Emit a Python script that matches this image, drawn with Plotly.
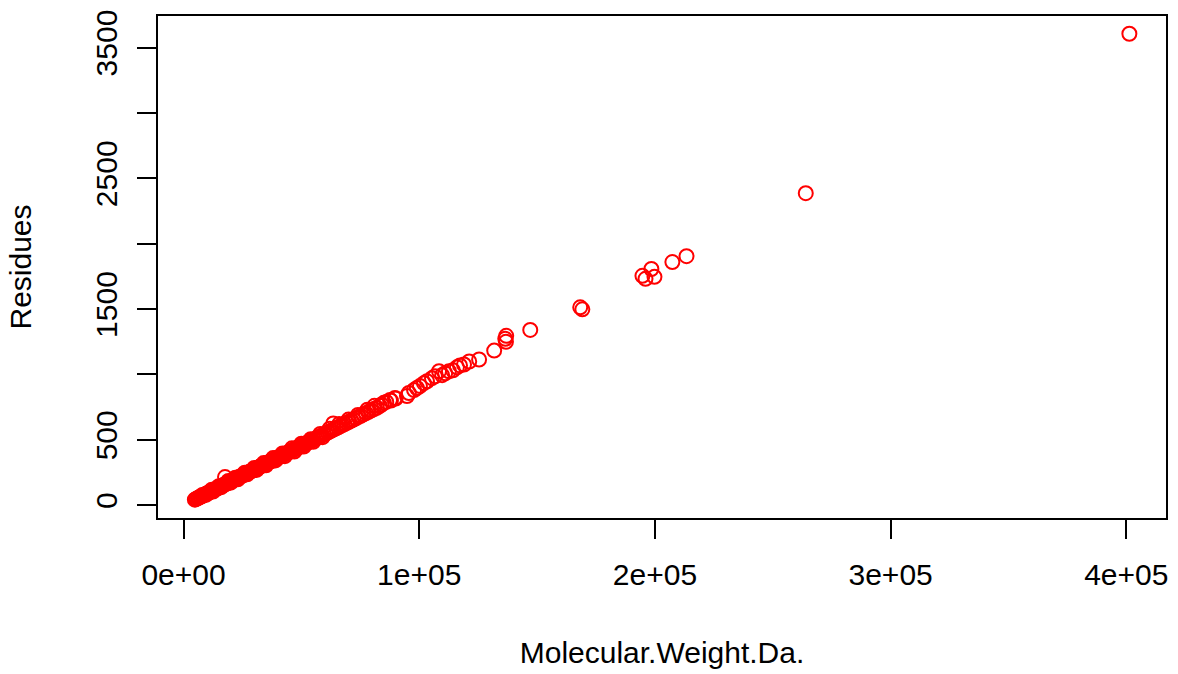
import plotly.graph_objects as go

# Molecular weight (Da) and residue counts
mw = [
    4800, 5200, 5600, 6100, 6500, 7000, 7400, 7900, 8300, 8800, 9200, 9700,
    10100, 10500, 10900, 11300, 11800, 12200, 12600, 13000, 13500, 13900, 14300,
    14800, 15200, 15700, 16100, 16600, 17000, 17500, 18000, 18400, 18900, 19300,
    19800, 20200, 20700, 21100, 21600, 22000, 22500, 23000, 23400, 23900, 24300,
    24800, 25200, 25700, 26100, 26600, 27000, 27500, 27900, 28400, 28800, 29300,
    29700, 30200, 30600, 31100, 31500, 32000, 32400, 32900, 33300, 33800, 34200,
    34700, 35100, 35600, 36000, 36500, 37000, 37400, 37900, 38300, 38800, 39200,
    39700, 40100, 40600, 41000, 41500, 42000, 42500, 43000, 43500, 44000, 44600,
    45100, 45700, 46200, 46800, 47300, 47900, 48500, 49000, 49600, 50200, 50800,
    51400, 52000, 52700, 53300, 54000, 54600, 55300, 56000, 56700, 57400, 58100,
    58900, 59600, 60400, 61200, 62000, 62800, 63800, 64700, 65600, 66500, 67400,
    68300, 69300, 70200, 71200, 72100, 73100, 74200, 75200, 76300, 77400, 78500,
    79700, 80800, 82000, 83300, 85000, 87600, 89700, 94800, 95600, 97800, 99000,
    100300, 102000, 103300, 105400, 106700, 108400, 109700, 111000, 112600,
    114300, 116000, 117300, 119000, 121200, 125400, 131800, 136900, 136500,
    136800, 147100, 168300, 169200, 194700, 196000, 198500, 199800, 207400,
    213400, 264000, 401300,
    8000, 9500, 12000, 12500, 15000, 16000, 17600, 19000, 20000, 22000, 23000,
    26000, 27000, 30000, 31000, 34000, 35000, 38000, 39000, 42000, 43000, 46000,
    47000, 50000, 51000, 54000, 55000, 58000, 59000, 62000, 63500, 66000, 70000,
    74000, 78000, 81000, 84000, 86000, 88000, 90000,
]
residues = [
    42, 46, 50, 55, 58, 63, 66, 71, 74, 79, 83, 88,
    91, 95, 98, 102, 106, 110, 114, 117, 122, 125, 129,
    134, 137, 142, 146, 150, 154, 159, 163, 167, 172, 175,
    180, 183, 188, 192, 196, 200, 205, 209, 213, 217, 221,
    225, 229, 234, 237, 242, 245, 250, 254, 258, 262, 266,
    270, 275, 278, 283, 286, 291, 295, 299, 303, 307, 311,
    315, 319, 324, 327, 332, 336, 340, 345, 348, 353, 356,
    361, 365, 369, 373, 377, 382, 386, 391, 395, 400, 405,
    410, 415, 420, 425, 430, 435, 441, 445, 451, 456, 462,
    467, 473, 479, 485, 491, 496, 503, 509, 515, 522, 528,
    535, 542, 549, 556, 564, 571, 580, 588, 596, 605, 613,
    621, 630, 638, 647, 655, 665, 675, 684, 694, 704, 714,
    725, 735, 745, 760, 783, 805, 820, 835, 858, 881, 896,
    911, 933, 948, 971, 986, 1024, 994, 1009, 1024,
    1031, 1054, 1069, 1076, 1099, 1114, 1182, 1295, 1272,
    1249, 1340, 1513, 1498, 1754, 1731, 1806, 1746, 1859,
    1904, 2386, 3605,
    78, 80, 118, 104, 145, 138, 215, 185, 172, 210, 198,
    248, 236, 285, 270, 322, 305, 360, 342, 395, 375, 435,
    410, 470, 448, 505, 485, 545, 520, 585, 625, 620, 655,
    690, 730, 760, 770, 790, 800, 815,
]

x_tick_vals = [0, 100000, 200000, 300000, 400000]
x_tick_text = ["0e+00", "1e+05", "2e+05", "3e+05", "4e+05"]
y_tick_vals = [0, 500, 1000, 1500, 2000, 2500, 3000, 3500]
y_tick_text = ["0", "500", "", "1500", "", "2500", "", "3500"]

FONT = "Liberation Sans, Arial, Helvetica, sans-serif"

fig = go.Figure()
fig.add_trace(go.Scatter(
    x=mw, y=residues, mode="markers",
    marker=dict(symbol="circle-open", size=14, color="#FF0000",
                line=dict(width=2, color="#FF0000")),
    showlegend=False, hoverinfo="x+y",
))

fig.update_layout(
    width=1178, height=674,
    margin=dict(l=158, r=10, t=12, b=152),
    paper_bgcolor="white", plot_bgcolor="white",
    font=dict(family=FONT, size=30, color="black"),
    xaxis=dict(
        range=[-10840, 416840], showgrid=False, zeroline=False,
        showline=True, linecolor="black", linewidth=1.8, mirror=True,
        ticks="outside", ticklen=19, tickwidth=1.8, tickcolor="black",
        tickvals=x_tick_vals, ticktext=x_tick_text,
        ticklabelstandoff=10,
        title=dict(text="Molecular.Weight.Da.", standoff=52,
                   font=dict(size=30)),
    ),
    yaxis=dict(
        range=[-98, 3741], showgrid=False, zeroline=False,
        showline=True, linecolor="black", linewidth=1.8, mirror=True,
        ticks="outside", ticklen=19, tickwidth=1.8, tickcolor="black",
        tickvals=y_tick_vals, ticktext=y_tick_text, tickangle=-90,
        ticklabelstandoff=8,
        title=dict(text="Residues", standoff=50, font=dict(size=30)),
    ),
)

fig.write_html("out.html")
